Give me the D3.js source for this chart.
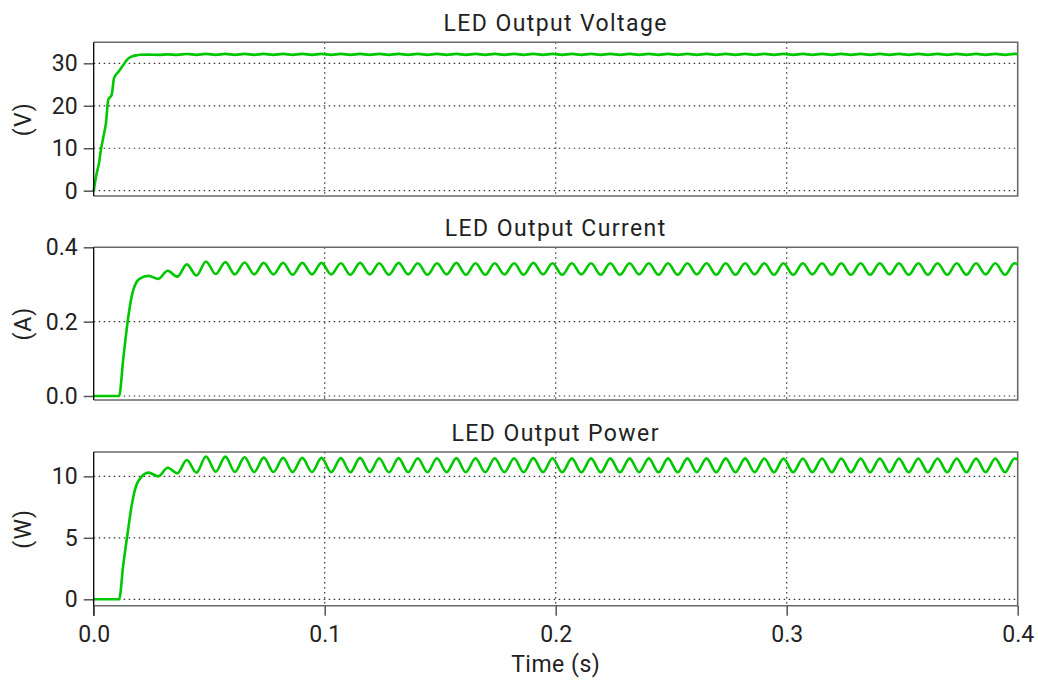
<!DOCTYPE html>
<html><head><meta charset="utf-8">
<script src="https://cdn.jsdelivr.net/npm/d3@7"></script>
<style>
body{margin:0;background:#fff}
svg{display:block}
</style>
</head><body>
<svg id="chart" width="1038" height="685"></svg>
<script>
// ---------------- data ----------------
const time = [
  0, 0.0013, 0.0023, 0.003, 0.0042, 0.0053, 0.0063, 0.0078, 0.0088, 0.011,
  0.0128, 0.0147, 0.0165, 0.0187, 0.020, 0.0237, 0.028, 0.032, 0.0362,
  0.0403, 0.0445, 0.0486, 0.0528, 0.0570, 0.0611, 0.0653, 0.0695, 0.0736, 0.0778,
  0.0820, 0.0861, 0.0903, 0.0945, 0.0986, 0.1028, 0.1070, 0.1111, 0.1153, 0.1195,
  0.1236, 0.1278, 0.1320, 0.1361, 0.1403, 0.1445, 0.1486, 0.1528, 0.1570, 0.1611,
  0.1653, 0.1695, 0.1736, 0.1778, 0.1820, 0.1861, 0.1903, 0.1945, 0.1986, 0.2028,
  0.2070, 0.2111, 0.2153, 0.2195, 0.2236, 0.2278, 0.2320, 0.2361, 0.2403, 0.2445,
  0.2486, 0.2528, 0.2570, 0.2611, 0.2653, 0.2695, 0.2736, 0.2778, 0.2820, 0.2861,
  0.2903, 0.2945, 0.2986, 0.3028, 0.3070, 0.3111, 0.3153, 0.3195, 0.3236, 0.3278,
  0.3320, 0.3361, 0.3403, 0.3445, 0.3486, 0.3528, 0.3570, 0.3611, 0.3653, 0.3695,
  0.3736, 0.3778, 0.3820, 0.3861, 0.3903, 0.3945, 0.3986, 0.4000
];
const voltage = [
  0, 4.1, 6.5, 9.2, 12.7, 15.9, 21.4, 22.6, 26.5, 28.2,
  29.6, 31.0, 31.6, 31.9, 32.0, 32.05, 32.0, 32.1, 32.0,
  32.2, 32.0, 32.22, 32.0, 32.22, 32.0, 32.22, 32.0, 32.22, 32.0,
  32.22, 32.0, 32.22, 32.0, 32.22, 32.0, 32.22, 32.0, 32.22, 32.0,
  32.22, 32.0, 32.22, 32.0, 32.22, 32.0, 32.22, 32.0, 32.22, 32.0,
  32.22, 32.0, 32.22, 32.0, 32.22, 32.0, 32.22, 32.0, 32.22, 32.0,
  32.22, 32.0, 32.22, 32.0, 32.22, 32.0, 32.22, 32.0, 32.22, 32.0,
  32.22, 32.0, 32.22, 32.0, 32.22, 32.0, 32.22, 32.0, 32.22, 32.0,
  32.22, 32.0, 32.22, 32.0, 32.22, 32.0, 32.22, 32.0, 32.22, 32.0,
  32.22, 32.0, 32.22, 32.0, 32.22, 32.0, 32.22, 32.0, 32.22, 32.0,
  32.22, 32.0, 32.22, 32.0, 32.22, 32.0, 32.22, 32.18
];
const current = [
  0, 0, 0, 0, 0, 0, 0, 0, 0, 0,
  0.10, 0.20, 0.27, 0.308, 0.316, 0.323, 0.315, 0.337, 0.321,
  0.354, 0.324, 0.362, 0.328, 0.360, 0.327, 0.359, 0.327, 0.358, 0.327,
  0.358, 0.326, 0.358, 0.327, 0.358, 0.327, 0.357, 0.326, 0.358, 0.327,
  0.357, 0.326, 0.358, 0.327, 0.357, 0.326, 0.357, 0.327, 0.358, 0.326,
  0.357, 0.326, 0.357, 0.327, 0.357, 0.326, 0.358, 0.327, 0.357, 0.326,
  0.357, 0.327, 0.357, 0.326, 0.357, 0.326, 0.357, 0.327, 0.357, 0.326,
  0.357, 0.326, 0.357, 0.327, 0.357, 0.326, 0.357, 0.326, 0.357, 0.327,
  0.357, 0.326, 0.357, 0.326, 0.357, 0.327, 0.357, 0.326, 0.357, 0.326,
  0.357, 0.326, 0.357, 0.327, 0.357, 0.326, 0.357, 0.326, 0.357, 0.326,
  0.357, 0.326, 0.357, 0.327, 0.357, 0.326, 0.357, 0.354
];
const power = [
  0, 0, 0, 0, 0, 0, 0, 0, 0, 0,
  2.8, 5.4, 7.7, 9.4, 9.8, 10.3, 10.0, 10.7, 10.25,
  11.33, 10.30, 11.62, 10.38, 11.60, 10.36, 11.55, 10.35, 11.52, 10.35,
  11.50, 10.34, 11.50, 10.35, 11.50, 10.34, 11.48, 10.33, 11.50, 10.34,
  11.47, 10.33, 11.48, 10.34, 11.47, 10.33, 11.47, 10.34, 11.48, 10.33,
  11.47, 10.33, 11.47, 10.34, 11.47, 10.33, 11.48, 10.34, 11.47, 10.33,
  11.46, 10.33, 11.46, 10.33, 11.46, 10.33, 11.46, 10.34, 11.46, 10.33,
  11.46, 10.33, 11.46, 10.34, 11.46, 10.33, 11.46, 10.33, 11.46, 10.34,
  11.45, 10.33, 11.45, 10.33, 11.45, 10.34, 11.45, 10.33, 11.45, 10.33,
  11.45, 10.33, 11.45, 10.34, 11.45, 10.33, 11.45, 10.33, 11.45, 10.33,
  11.45, 10.33, 11.45, 10.34, 11.45, 10.33, 11.45, 11.40
];
const titles = ["LED Output Voltage", "LED Output Current", "LED Output Power"];
const units = ["(V)", "(A)", "(W)"];
const yTickValues = [[0, 10, 20, 30], [0.0, 0.2, 0.4], [0, 5, 10]];
const yTickFormats = ["d", ".1f", "d"];
const yDomains = [[-1.25, 34.95], [-0.0108, 0.4], [-0.52, 11.98]];
const xTickValues = [0, 0.1, 0.2, 0.3, 0.4];
const xLabel = "Time (s)";
const series = [voltage, current, power];

// ---------------- layout ----------------
const FONT = "Roboto, 'DejaVu Sans', sans-serif";
const FS = 23;
const TXT = "#222";
const left = 93.7, right = 1017.7;
const panelTops = [42.3, 247.3, 452];
const panelBottoms = [196, 400, 605.7];
const green = "#00c800";

const svg = d3.select("#chart");
const x = d3.scaleLinear().domain([0, 0.4]).range([left, right]);

series.forEach((vals, i) => {
  const top = panelTops[i], bottom = panelBottoms[i];
  const y = d3.scaleLinear().domain(yDomains[i]).range([bottom, top]);
  const g = svg.append("g");

  // grid lines
  g.selectAll(".vg").data(xTickValues.filter(d => d > 0 && d < 0.4)).join("line")
    .attr("x1", d => x(d)).attr("x2", d => x(d)).attr("y1", top).attr("y2", bottom)
    .attr("stroke", "#333").attr("stroke-width", 1.2).attr("stroke-dasharray", "1.5,3.5");
  g.selectAll(".hg").data(yTickValues[i].filter(d => y(d) > top + 1)).join("line")
    .attr("x1", left).attr("x2", right).attr("y1", d => y(d)).attr("y2", d => y(d))
    .attr("stroke", "#333").attr("stroke-width", 1.2).attr("stroke-dasharray", "1.5,3.5");

  // box (top/right/bottom grey)
  g.append("path")
    .attr("d", `M${left},${top}H${right}V${bottom}H${left}`)
    .attr("fill", "none").attr("stroke", "#6a6a6a").attr("stroke-width", 1.6);

  // data line
  const line = d3.line().x((d, k) => x(time[k])).y(d => y(d)).curve(d3.curveMonotoneX);
  g.append("path").datum(vals).attr("d", line)
    .attr("fill", "none").attr("stroke", green).attr("stroke-width", 2.6)
    .attr("stroke-linejoin", "round");

  // y axis
  const ya = d3.axisLeft(y).tickValues(yTickValues[i]).tickFormat(d3.format(yTickFormats[i]))
    .tickSize(10).tickPadding(6);
  const yg = g.append("g").attr("transform", `translate(${left},0)`).call(ya);
  yg.select(".domain").remove();
  yg.selectAll(".tick line").attr("stroke", "#555").attr("stroke-width", 1.5);
  yg.selectAll(".tick text").attr("font-family", FONT).attr("font-size", FS).attr("fill", TXT);
  // left axis line (black)
  const leftBottom = i === 2 ? bottom + 10 : bottom;
  g.append("line").attr("x1", left).attr("x2", left).attr("y1", top).attr("y2", leftBottom)
    .attr("stroke", "#000").attr("stroke-width", 1.3);

  // title
  g.append("text").attr("x", (left + right) / 2).attr("y", top - 11)
    .attr("text-anchor", "middle").attr("font-family", FONT).attr("font-size", FS)
    .attr("letter-spacing", 1.4).attr("fill", TXT).text(titles[i]);
  // unit label
  g.append("text").attr("transform", `translate(23,${(top + bottom) / 2}) rotate(-90)`)
    .attr("text-anchor", "middle").attr("dominant-baseline", "central")
    .attr("font-family", FONT).attr("font-size", FS).attr("letter-spacing", 1)
    .attr("fill", TXT).text(units[i]);

  if (i === 2) {
    const xa = d3.axisBottom(x).tickValues(xTickValues).tickFormat(d3.format(".1f"))
      .tickSize(10).tickPadding(10);
    const xg = g.append("g").attr("transform", `translate(0,${bottom})`).call(xa);
    xg.select(".domain").remove();
    xg.selectAll(".tick line").attr("stroke", "#555").attr("stroke-width", 1.5);
    xg.selectAll(".tick text").attr("font-family", FONT).attr("font-size", FS).attr("fill", TXT);
    g.append("text").attr("x", (left + right) / 2).attr("y", 672)
      .attr("text-anchor", "middle").attr("font-family", FONT).attr("font-size", FS)
      .attr("letter-spacing", 0.5).attr("fill", TXT).text(xLabel);
  }
});
</script>
</body></html>
